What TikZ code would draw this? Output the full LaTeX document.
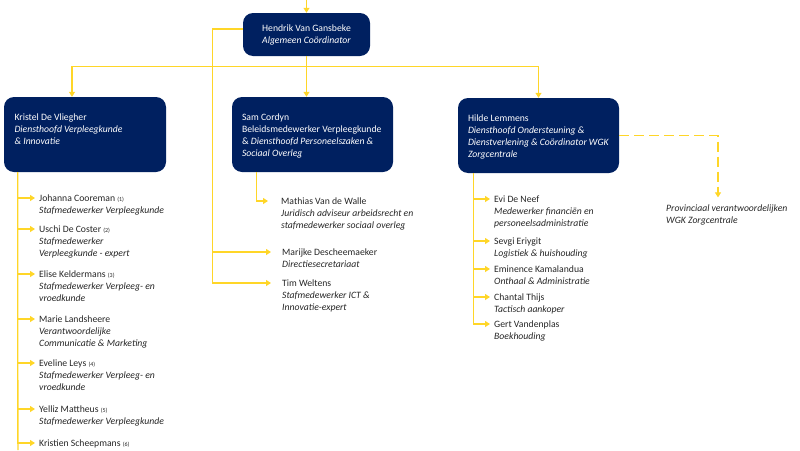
\documentclass[tikz,border=0pt]{standalone}
\usepackage{fontspec}
\setmainfont{Carlito}
\usetikzlibrary{arrows.meta}
\definecolor{navy}{RGB}{0,32,96}
\definecolor{gold}{RGB}{255,214,40}
\definecolor{ink}{RGB}{38,38,38}
\tikzstyle{headbox} = [rectangle, rounded corners=10pt, fill=navy, text=white, inner sep=0pt, align=left, font=\fontsize{9.7}{12}\selectfont]
\tikzstyle{leaf} = [anchor=north west, inner xsep=4pt, inner ysep=0pt, align=left, text=ink, font=\fontsize{9.7}{12}\selectfont]
\tikzstyle{link} = [draw=gold, line width=1.1pt]
\tikzstyle{arrow} = [link, -{Triangle[length=5pt,width=6pt]}]
\tikzstyle{dasharrow} = [arrow, dash pattern=on 10pt off 5pt]
\newcommand{\boxtext}[1]{\parbox[c][50pt][t]{141pt}{\raggedright\vspace*{4pt}#1}}
\newcommand{\nr}[1]{{\fontsize{6}{7}\selectfont(#1)}}

\begin{document}
\begin{tikzpicture}[x=1pt, y=-1pt]
\useasboundingbox (0,0) rectangle (800,450);

% heads
\node (hendrik) [headbox, minimum width=127pt, minimum height=43pt] at (306.5,34.5) {Hendrik Van Gansbeke\\\textit{Algemeen Coördinator}};
\node (kristel) [headbox, minimum width=162pt, minimum height=75pt] at (85,134.5) {\boxtext{Kristel De Vliegher\\\textit{Diensthoofd Verpleegkunde}\\\textit{\& Innovatie}}};
\node (sam) [headbox, minimum width=161pt, minimum height=75pt] at (312.5,134.5) {\boxtext{Sam Cordyn\\Beleidsmedewerker Verpleegkunde\\\& \textit{Diensthoofd Personeelszaken \&}\\\textit{Sociaal Overleg}}};
\node (hilde) [headbox, minimum width=161pt, minimum height=75pt] at (538.5,135.5) {\boxtext{Hilde Lemmens\\\textit{Diensthoofd Ondersteuning \&}\\\textit{Dienstverlening \& Coördinator WGK}\\\textit{Zorgcentrale}}};

% staff under Kristel
\node (johanna) [leaf] at (35,194.4) {Johanna Cooreman \nr{1}\\\textit{Stafmedewerker Verpleegkunde}};
\node (uschi) [leaf] at (35,225.4) {Uschi De Coster \nr{2}\\\textit{Stafmedewerker}\\\textit{Verpleegkunde - expert}};
\node (elise) [leaf] at (35,270.4) {Elise Keldermans \nr{3}\\\textit{Stafmedewerker Verpleeg- en}\\\textit{vroedkunde}};
\node (marie) [leaf] at (35,315.4) {Marie Landsheere\\\textit{Verantwoordelijke}\\\textit{Communicatie \& Marketing}};
\node (eveline) [leaf] at (35,359.4) {Eveline Leys \nr{4}\\\textit{Stafmedewerker Verpleeg- en}\\\textit{vroedkunde}};
\node (yelliz) [leaf] at (35,405.4) {Yelliz Mattheus \nr{5}\\\textit{Stafmedewerker Verpleegkunde}};
\node (kristien) [leaf] at (35,439.4) {Kristien Scheepmans \nr{6}};

% staff under Sam and Hendrik
\node (mathias) [leaf] at (277,197.4) {Mathias Van de Walle\\\textit{Juridisch adviseur arbeidsrecht en}\\\textit{stafmedewerker sociaal overleg}};
\node (marijke) [leaf] at (278,248.4) {Marijke Descheemaeker\\\textit{Directiesecretariaat}};
\node (tim) [leaf] at (278,279.4) {Tim Weltens\\\textit{Stafmedewerker ICT \&}\\\textit{Innovatie-expert}};

% staff under Hilde
\node (evi) [leaf] at (490,195.4) {Evi De Neef\\\textit{Medewerker financiën en}\\\textit{personeelsadministratie}};
\node (sevgi) [leaf] at (490,237.4) {Sevgi Eriygit\\\textit{Logistiek \& huishouding}};
\node (eminence) [leaf] at (490,265.4) {Eminence Kamalandua\\\textit{Onthaal \& Administratie}};
\node (chantal) [leaf] at (490,293.4) {Chantal Thijs\\\textit{Tactisch aankoper}};
\node (gert) [leaf] at (490,320.4) {Gert Vandenplas\\\textit{Boekhouding}};
\node (prov) [leaf] at (662,204.4) {\textit{Provinciaal verantwoordelijken}\\\textit{WGK Zorgcentrale}};

\coordinate (intop) at (306.5,0);
\coordinate (kt) at ([xshift=14pt]kristel.south west);
\coordinate (kbottom) at (18,450);
\coordinate (ht) at ([xshift=16pt]hilde.south west);

% lines from Hendrik
\draw [arrow] (intop) -- (hendrik.north);
\draw [arrow] (hendrik.south) -- ++(0,10) -| ([xshift=-13pt]kristel.north);
\draw [arrow] (hendrik.south) -- (hendrik.south |- sam.north);
\draw [arrow] (hendrik.south) -- ++(0,10) -| (hilde.north);
\draw [arrow, shorten >=7pt] ([yshift=5.5pt]hendrik.west) -- ++(-30,0) |- ([yshift=-3.6pt]marijke.north west);
\draw [arrow, shorten >=7pt] ([yshift=5.5pt]hendrik.west) -- ++(-30,0) |- ([yshift=-3.6pt]tim.north west);

% lines from Kristel
\draw [link] (kt) -- (kbottom);
\draw [arrow] (kt) |- ([yshift=-3.6pt]johanna.north west);
\draw [arrow] (kt) |- ([yshift=-3.6pt]uschi.north west);
\draw [arrow] (kt) |- ([yshift=-3.6pt]elise.north west);
\draw [arrow] (kt) |- ([yshift=-3.6pt]marie.north west);
\draw [arrow] (kt) |- ([yshift=-3.6pt]eveline.north west);
\draw [arrow] (kt) |- ([yshift=-3.6pt]yelliz.north west);
\draw [arrow] (kt) |- ([yshift=-3.6pt]kristien.north west);

% line from Sam
\draw [arrow, shorten >=9pt] ([xshift=25pt]sam.south west) |- ([yshift=-3.6pt]mathias.north west);

% lines from Hilde
\draw [arrow] (ht) |- ([yshift=-3.6pt]evi.north west);
\draw [arrow] (ht) |- ([yshift=-3.6pt]sevgi.north west);
\draw [arrow] (ht) |- ([yshift=-3.6pt]eminence.north west);
\draw [arrow] (ht) |- ([yshift=-3.6pt]chantal.north west);
\draw [arrow] (ht) |- ([yshift=-3.6pt]gert.north west);
\draw [dasharrow, shorten >=7pt] (hilde.east) -| ([xshift=56pt]prov.north west);

\end{tikzpicture}
\end{document}
